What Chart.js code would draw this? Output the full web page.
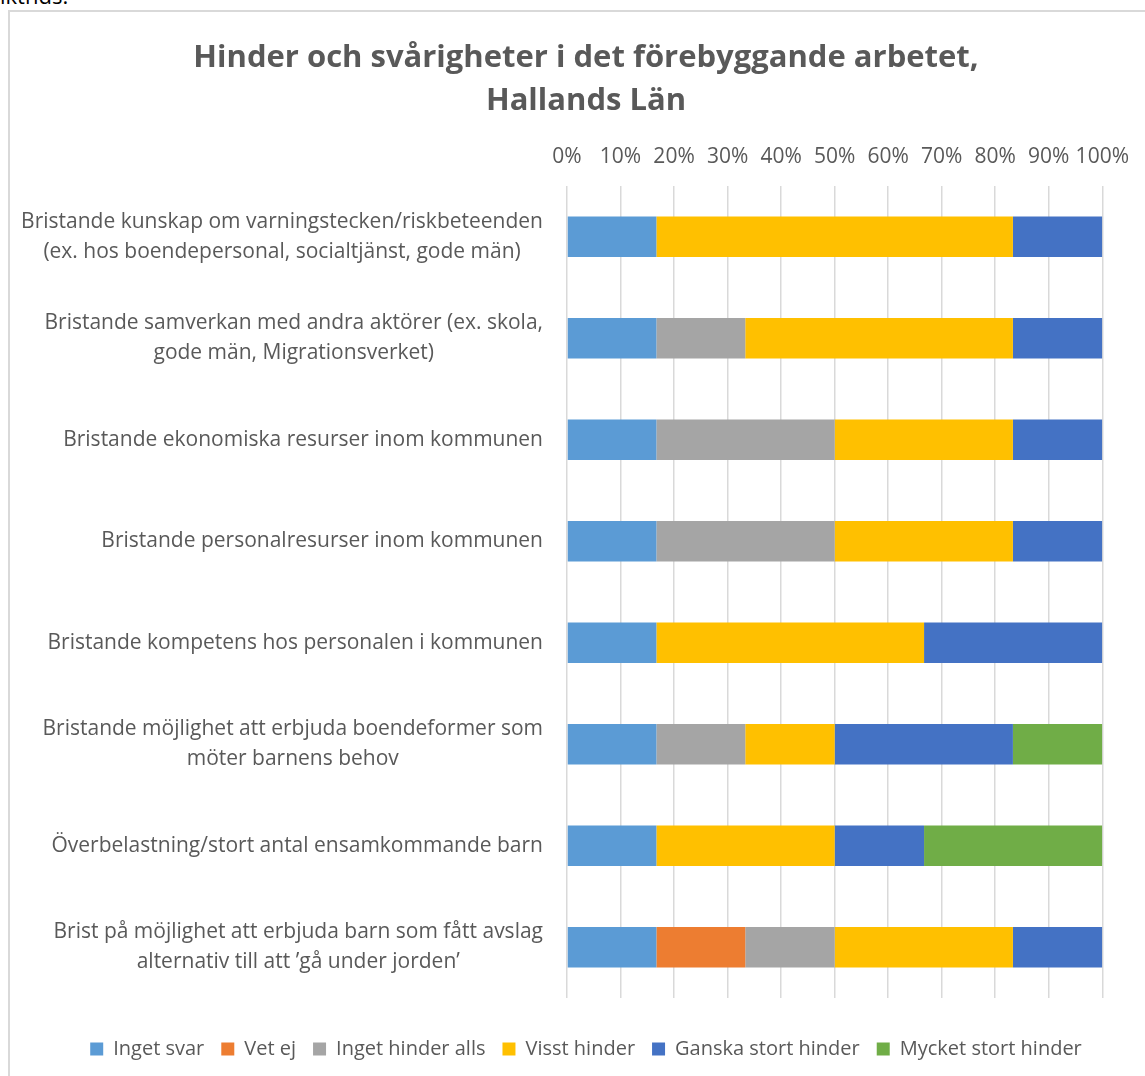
<!DOCTYPE html>
<html>
<head>
<meta charset="utf-8">
<script src="https://cdn.jsdelivr.net/npm/chart.js@4/dist/chart.umd.min.js"></script>
<style>
  body { margin: 0; width: 1145px; height: 1076px; position: relative; overflow: hidden; background: #fff; }
  #frame { position: absolute; left: 8px; top: 10px; width: 1160px; height: 1090px; border: 2px solid #d9d9d9; box-sizing: border-box; }
  #cut { position: absolute; left: 0; top: -20px; font: 22px 'Open Sans', sans-serif; color: #000; }
  #chart { position: absolute; left: 0; top: 0; }
</style>
</head>
<body>
<div id="cut">iktnds:</div>
<div id="frame"></div>
<canvas id="chart" width="1145" height="1076"></canvas>
<script>
const family = "'Open Sans', sans-serif";

const categories = [
    ['Bristande kunskap om varningstecken/riskbeteenden', '(ex. hos boendepersonal, socialtjänst, gode män)'],
    ['Bristande samverkan med andra aktörer (ex. skola,', 'gode män, Migrationsverket)'],
    'Bristande ekonomiska resurser inom kommunen',
    'Bristande personalresurser inom kommunen',
    'Bristande kompetens hos personalen i kommunen',
    ['Bristande möjlighet att erbjuda boendeformer som', 'möter barnens behov'],
    'Överbelastning/stort antal ensamkommande barn',
    ['Brist på möjlighet att erbjuda barn som fått avslag', 'alternativ till att ’gå under jorden’']
];

const seriesNames = ['Inget svar', 'Vet ej', 'Inget hinder alls', 'Visst hinder', 'Ganska stort hinder', 'Mycket stort hinder'];
const seriesColors = ['#5B9BD5', '#ED7D31', '#A5A5A5', '#FFC000', '#4472C4', '#70AD47'];

// andel svar i procent
const ingetSvar = [16.7, 16.7, 16.7, 16.7, 16.7, 16.7, 16.7, 16.7];
const vetEj = [0, 0, 0, 0, 0, 0, 0, 16.6];
const ingetHinder = [0, 16.6, 33.3, 33.3, 0, 16.6, 0, 16.7];
const visstHinder = [66.6, 50, 33.3, 33.3, 50, 16.7, 33.3, 33.3];
const ganskaStort = [16.7, 16.7, 16.7, 16.7, 33.3, 33.3, 16.7, 16.7];
const mycketStort = [0, 0, 0, 0, 0, 16.7, 33.3, 0];

const tickValues = [0, 10, 20, 30, 40, 50, 60, 70, 80, 90, 100];

const titleLines = ['Hinder och svårigheter i det förebyggande arbetet,', 'Hallands Län'];

const allSeries = [ingetSvar, vetEj, ingetHinder, visstHinder, ganskaStort, mycketStort];

// kategorietiketter: raderna centreras mot varandra, blocket högerjusteras
const labelPlugin = {
    id: 'catLabels',
    afterDraw(chart) {
        const ctx = chart.ctx;
        const ys = chart.scales.y;
        ctx.save();
        ctx.font = `21px ${family}`;
        ctx.fillStyle = '#595959';
        ctx.textBaseline = 'middle';
        ctx.textAlign = 'center';
        const right = ys.right - 24;
        categories.forEach((lab, i) => {
            const lines = Array.isArray(lab) ? lab : [lab];
            const w = Math.max(...lines.map(l => ctx.measureText(l).width));
            const cy = ys.getPixelForTick(i);
            lines.forEach((l, j) => {
                ctx.fillText(l, right - w / 2, cy + (j - (lines.length - 1) / 2) * 30);
            });
        });
        ctx.restore();
    }
};

new Chart(document.getElementById('chart'), {
    type: 'bar',
    data: {
        labels: categories,
        datasets: seriesNames.map((name, i) => ({
            label: name,
            data: allSeries[i],
            backgroundColor: seriesColors[i],
            borderWidth: 0,
            barPercentage: 0.4,
            categoryPercentage: 1
        }))
    },
    options: {
        indexAxis: 'y',
        responsive: false,
        animation: false,
        devicePixelRatio: 1,
        layout: { padding: { left: 64, right: 37, top: 0, bottom: 7 } },
        scales: {
            x: {
                position: 'top',
                stacked: true,
                min: 0,
                max: 100,
                afterBuildTicks(scale) { scale.ticks = tickValues.map(v => ({ value: v })); },
                ticks: {
                    callback: v => v + '%',
                    color: '#595959',
                    font: { size: 21, family: family },
                    padding: 16,
                    maxRotation: 0,
                    autoSkip: false
                },
                grid: { color: '#d9d9d9', lineWidth: 1.5, drawTicks: false },
                border: { display: false }
            },
            y: {
                stacked: true,
                ticks: { display: false },
                grid: { display: false },
                border: { display: false },
                afterFit(scale) { scale.width = 503; }
            }
        },
        plugins: {
            title: {
                display: true,
                text: titleLines,
                color: '#595959',
                font: { size: 31, weight: 'bold', family: family, lineHeight: 1.4 },
                padding: { top: 36, bottom: 6 }
            },
            legend: {
                position: 'bottom',
                labels: {
                    boxWidth: 13,
                    boxHeight: 13,
                    color: '#595959',
                    font: { size: 20, family: family },
                    padding: 17
                },
                title: {
                    display: true,
                    text: ' ',
                    font: { size: 1, lineHeight: 1 },
                    padding: { top: 23, bottom: 0 }
                }
            },
            tooltip: { enabled: false }
        }
    },
    plugins: [labelPlugin]
});
</script>
</body>
</html>
